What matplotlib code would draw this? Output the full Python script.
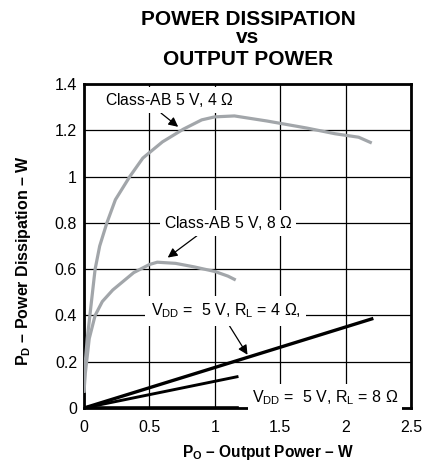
import matplotlib
matplotlib.use('Agg')
import matplotlib.pyplot as plt

plt.rcParams['font.family'] = 'Liberation Sans'
plt.rcParams['mathtext.fontset'] = 'custom'
plt.rcParams['mathtext.rm'] = 'Liberation Sans'
plt.rcParams['mathtext.bf'] = 'Liberation Sans:bold'

# Class-AB 5 V, 4 ohm (gray)
ab4_x = [0.0, 0.005, 0.01, 0.025, 0.045, 0.065, 0.085, 0.12, 0.175, 0.24, 0.35, 0.45, 0.6, 0.76, 0.9,
         1.0, 1.15, 1.4, 1.7, 1.92, 2.1, 2.2]
ab4_y = [0.065, 0.15, 0.2, 0.3, 0.4, 0.5, 0.6, 0.7, 0.8, 0.9, 1.0, 1.08, 1.15, 1.205, 1.245,
         1.258, 1.262, 1.24, 1.21, 1.185, 1.17, 1.145]

# Class-AB 5 V, 8 ohm (gray)
ab8_x = [0.0, 0.01, 0.02, 0.04, 0.085, 0.14, 0.22, 0.38, 0.5, 0.56, 0.7, 0.84, 1.0, 1.1, 1.16]
ab8_y = [0.07, 0.15, 0.2, 0.3, 0.4, 0.46, 0.51, 0.585, 0.62, 0.63, 0.625, 0.61, 0.59, 0.57, 0.553]

# VDD = 5 V lines (black)
d4_x = [0.0, 2.2]
d4_y = [0.0, 0.385]
d8_x = [0.0, 1.17]
d8_y = [0.0, 0.135]
d0_x = [0.0, 1.17]
d0_y = [0.0, 0.0]

xticks = [0, 0.5, 1, 1.5, 2, 2.5]
xtick_labels = ['0', '0.5', '1', '1.5', '2', '2.5']
yticks = [0, 0.2, 0.4, 0.6, 0.8, 1, 1.2, 1.4]
ytick_labels = ['0', '0.2', '0.4', '0.6', '0.8', '1', '1.2', '1.4']

fig = plt.figure(figsize=(4.38, 4.67), dpi=100)
ax = fig.add_axes([84 / 438, 1 - 408 / 467, 327 / 438, 324 / 467])

gray = '#a2a6aa'
ax.plot(ab4_x, ab4_y, color=gray, lw=2.3, zorder=3, solid_capstyle='butt')
ax.plot(ab8_x, ab8_y, color=gray, lw=2.3, zorder=3, solid_capstyle='butt')
ax.plot(d4_x, d4_y, color='black', lw=2.4, zorder=3)
ax.plot(d8_x, d8_y, color='black', lw=2.1, zorder=3)
ax.plot(d0_x, d0_y, color='black', lw=2.6, zorder=3)

ax.set_xlim(0, 2.5)
ax.set_ylim(0, 1.4)
ax.set_xticks(xticks)
ax.set_xticklabels(xtick_labels, fontsize=11.5)
ax.set_yticks(yticks)
ax.set_yticklabels(ytick_labels, fontsize=11.5)
ax.tick_params(axis='y', length=0, pad=5)
ax.tick_params(axis='x', length=0, pad=9)
ax.grid(True, color='black', lw=0.9)
ax.set_axisbelow(True)
for s in ax.spines.values():
    s.set_linewidth(2)

box = dict(boxstyle='square,pad=0.25', fc='white', ec='none')
arrow = dict(arrowstyle='-|>', color='black', lw=0.9, mutation_scale=14, shrinkA=0, shrinkB=0)

ax.annotate('Class-AB 5 V, 4 $\\Omega$', xy=(0.72, 1.215), xytext=(0.65, 1.33),
            ha='center', va='center', fontsize=11.3, bbox=box, zorder=5,
            arrowprops=dict(arrow, relpos=(0.4, 0.0)))
ax.annotate('Class-AB 5 V, 8 $\\Omega$', xy=(0.64, 0.65), xytext=(1.10, 0.80),
            ha='center', va='center', fontsize=11.3, bbox=box, zorder=5,
            arrowprops=dict(arrow, relpos=(0.3, 0.0)))
ax.annotate('$\\mathregular{V_{DD}}$ =  5 V, $\\mathregular{R_L}$ = 4 $\\Omega$,',
            xy=(1.25, 0.23), xytext=(1.085, 0.42),
            ha='center', va='center', fontsize=11.5,
            bbox=dict(boxstyle='square,pad=0.35', fc='white', ec='none'), zorder=5,
            arrowprops=dict(arrow, relpos=(0.5, 0.0)))
ax.text(1.84, 0.045, '$\\mathregular{V_{DD}}$ =  5 V, $\\mathregular{R_L}$ = 8 $\\Omega$',
        ha='center', va='center', fontsize=11.5, zorder=5,
        bbox=dict(boxstyle='square,pad=0.25', fc='white', ec='none'))

fig.text(268 / 438, 1 - 453 / 467, '$\\mathbf{P_O}$ \u2013 Output Power \u2013 W',
         ha='center', va='center', fontsize=11.2, fontweight='bold')
fig.text(24 / 438, 1 - 261 / 467, '$\\mathbf{P_D}$ \u2013 Power Dissipation \u2013 W',
         ha='center', va='center', rotation=90, fontsize=11.5, fontweight='bold')

fig.text(248 / 438, 1 - 25 / 467, 'POWER DISSIPATION', ha='center', va='baseline',
         fontsize=15, fontweight='bold')
fig.text(248 / 438, 1 - 43 / 467, 'vs', ha='center', va='baseline',
         fontsize=15, fontweight='bold')
fig.text(248 / 438, 1 - 65 / 467, 'OUTPUT POWER', ha='center', va='baseline',
         fontsize=15, fontweight='bold')

fig.savefig('out.png', dpi=100)
